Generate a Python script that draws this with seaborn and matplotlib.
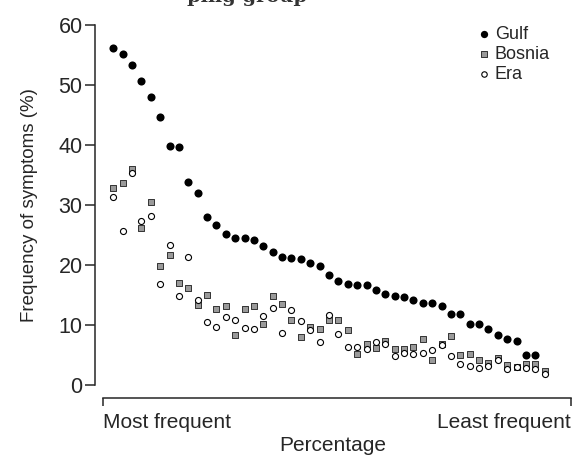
import numpy as np
import pandas as pd
import matplotlib
matplotlib.use('Agg')
import matplotlib.pyplot as plt
import seaborn as sns

# symptom frequencies (%), ordered from most to least frequent in the Gulf group
gulf = [56.1, 55.2, 53.3, 50.7, 48.0, 44.7, 39.9, 39.6, 33.9, 32.0,
        28.0, 26.7, 25.2, 24.5, 24.5, 24.2, 23.2, 22.1, 21.4, 21.2,
        21.0, 20.4, 19.9, 18.4, 17.3, 16.8, 16.7, 16.7, 15.9, 15.2,
        14.8, 14.6, 14.1, 13.6, 13.6, 13.2, 11.8, 11.8, 10.2, 10.1,
        9.3, 8.3, 7.7, 7.3, 5.0, 5.0]
bosnia = [32.9, 33.6, 36.0, 26.2, 30.5, 19.8, 21.6, 17.0, 16.2, 13.3,
          15.0, 12.6, 13.1, 8.3, 12.7, 13.1, 10.1, 14.9, 13.5, 10.8,
          8.0, 9.7, 9.3, 10.8, 10.8, 9.1, 5.2, 6.8, 6.1, 7.3,
          6.0, 6.0, 6.4, 7.7, 4.1, 6.9, 8.1, 5.0, 5.1, 4.1,
          3.6, 4.5, 3.3, 3.0, 3.5, 3.5, 2.3]
era = [31.4, 25.6, 35.4, 27.4, 28.1, 16.8, 23.3, 14.8, 21.3, 14.1,
       10.5, 9.6, 11.4, 10.8, 9.5, 9.4, 11.5, 12.8, 8.6, 12.5,
       10.7, 9.1, 7.2, 11.6, 8.5, 6.4, 6.4, 6.0, 7.1, 6.9,
       4.9, 5.3, 5.1, 5.3, 5.8, 6.6, 4.8, 3.5, 3.2, 2.8,
       3.2, 4.1, 2.7, 3.0, 2.8, 2.6, 1.9]
yticks = [0, 10, 20, 30, 40, 50, 60]
end_labels = ['Most frequent', 'Least frequent']

sns.set_style('ticks')
plt.rcParams['font.family'] = ['Liberation Sans', 'DejaVu Sans']

df_gulf = pd.DataFrame({'rank': np.arange(1, len(gulf) + 1), 'freq': gulf})
df_bosnia = pd.DataFrame({'rank': np.arange(1, len(bosnia) + 1), 'freq': bosnia})
df_era = pd.DataFrame({'rank': np.arange(1, len(era) + 1), 'freq': era})

fig = plt.figure(figsize=(5.74, 4.59), dpi=100)
ax = fig.add_axes([95 / 574, 74 / 459, 476 / 574, 360 / 459])

sns.scatterplot(data=df_gulf, x='rank', y='freq', ax=ax, marker='o', s=34,
                color='black', edgecolor='black', linewidth=0, label='Gulf',
                clip_on=False, zorder=3)
sns.scatterplot(data=df_bosnia, x='rank', y='freq', ax=ax, marker='s', s=17,
                color='#9a9a9a', edgecolor='#333333', linewidth=0.7,
                label='Bosnia', clip_on=False, zorder=2)
sns.scatterplot(data=df_era, x='rank', y='freq', ax=ax, marker='o', s=19,
                color='white', edgecolor='black', linewidth=0.8, label='Era',
                clip_on=False, zorder=2)

x_left, x_right = -0.95, 49.8
ax.set_xlim(x_left, x_right)
ax.set_ylim(0, 60)

sns.despine(ax=ax)
ax.spines['left'].set_linewidth(1.1)
ax.spines['bottom'].set_linewidth(1.1)
ax.spines['bottom'].set_position(('outward', 9))
ax.spines['bottom'].set_bounds(-0.1, x_right - 0.05)

ax.set_yticks(yticks)
ax.set_yticklabels([str(t) for t in yticks])
ax.set_xticks([-0.1, x_right - 0.05])
ax.set_xticklabels(end_labels)
lbls = ax.get_xticklabels()
lbls[0].set_ha('left')
lbls[1].set_ha('right')

ax.tick_params(axis='y', length=7, width=1.1, labelsize=15.5, pad=2)
ax.tick_params(axis='x', length=6, width=1.1, labelsize=15, pad=5)

ax.set_xlabel('Percentage', fontsize=15, labelpad=3)
ax.set_ylabel('Frequency of symptoms (%)', fontsize=13.5, labelpad=15)

leg = ax.legend(loc='upper right', bbox_to_anchor=(0.99, 1.042), frameon=False,
                fontsize=13, handletextpad=0.1, labelspacing=0.15,
                markerscale=0.9, handlelength=1.0)

fig.text(0.43, 1 - 2 / 459, 'ping group', ha='center', va='baseline',
         family='DejaVu Serif', fontweight='bold', fontsize=14, color='#333333')

fig.savefig('out.png', dpi=100)
